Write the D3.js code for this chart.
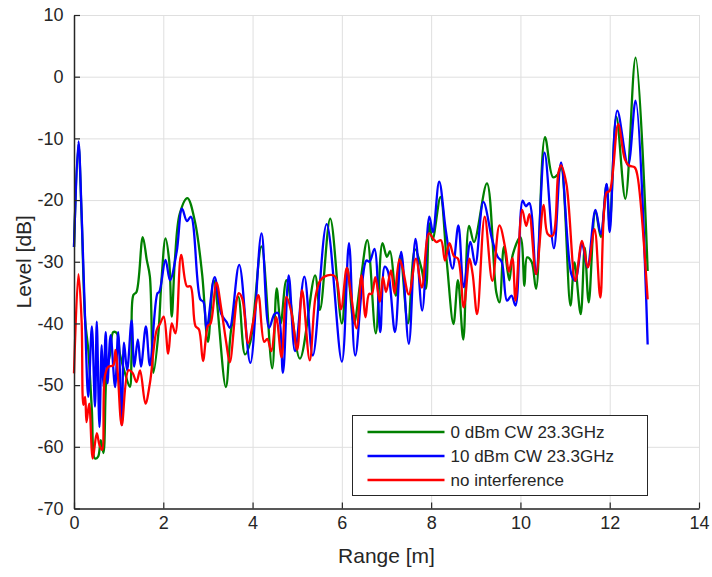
<!DOCTYPE html>
<html>
<head>
<meta charset="utf-8">
<script src="https://cdn.jsdelivr.net/npm/d3@7"></script>
<style>
  body { margin: 0; background: #fff; }
  text { font-family: "Liberation Sans", Arial, sans-serif; fill: #262626; }
</style>
</head>
<body>
<div id="chart"></div>
<script>
// tick values
var xTicks = [0, 2, 4, 6, 8, 10, 12, 14];
var yTicks = [-70, -60, -50, -40, -30, -20, -10, 0, 10];

// series: [range m, level dB] (peaks and dips)
var green0dBm = [
  [0, -27.6], [0.1, -11], [0.17, -22.5], [0.25, -39.5], [0.32, -44.3], [0.40, -54], [0.47, -61.9],
  [0.54, -61.6], [0.60, -58.9], [0.66, -61], [0.73, -48], [0.81, -44.9], [0.88, -41.4], [0.96, -41.6],
  [1.03, -45], [1.14, -48], [1.25, -50.3], [1.29, -45], [1.33, -35.4], [1.40, -34.9], [1.54, -26],
  [1.63, -29.7], [1.70, -32.4], [1.78, -48], [1.89, -41.6], [1.96, -33], [2.05, -26.2], [2.13, -29.7],
  [2.19, -38.9], [2.26, -29.7], [2.37, -22.2], [2.54, -19.7], [2.71, -23.5], [2.87, -32], [3.0, -43],
  [3.13, -33], [3.40, -50.3], [3.52, -41], [3.68, -35.7], [3.83, -45], [3.95, -43], [4.20, -27.5],
  [4.44, -47.3], [4.54, -34.3], [4.63, -40], [4.76, -33], [5.06, -45.7], [5.40, -32.2], [5.51, -37.8],
  [5.74, -23], [6.0, -40], [6.12, -31], [6.27, -40], [6.42, -33], [6.57, -26.5], [6.76, -41.6],
  [6.91, -27], [7.01, -29.2], [7.08, -28.3], [7.21, -35.5], [7.31, -29], [7.48, -40], [7.64, -28],
  [7.78, -31], [7.88, -34.4], [7.96, -23.8], [8.03, -26.5], [8.21, -19.5], [8.35, -30], [8.50, -40.1],
  [8.60, -33], [8.72, -42.6], [8.85, -24.2], [8.96, -26.8], [9.25, -17.3], [9.46, -35], [9.53, -36.6],
  [9.63, -27.6], [9.75, -33], [9.83, -28.8], [10.0, -26], [10.09, -33.9], [10.15, -29.3], [10.25, -30],
  [10.35, -34.4], [10.55, -9.8], [10.73, -16.3], [10.84, -15.8], [10.91, -14.7], [11.12, -37.1],
  [11.21, -30.1], [11.35, -38.5], [11.44, -27.7], [11.53, -36.6], [11.68, -21.7], [11.80, -26],
  [11.93, -17.5], [12.0, -24], [12.15, -6.5], [12.35, -19.8], [12.58, 3.1], [12.85, -31.5]
];

var blue10dBm = [
  [0, -27.6], [0.1, -10.5], [0.17, -22], [0.25, -39.7], [0.32, -51.9], [0.40, -40.5], [0.47, -53.5],
  [0.51, -39.7], [0.57, -56.8], [0.62, -43.5], [0.66, -50.3], [0.71, -41.4], [0.75, -49.7], [0.82, -41.9],
  [0.92, -50.3], [0.99, -41.4], [1.07, -56.5], [1.12, -43.1], [1.19, -47.6], [1.29, -39.5], [1.35, -47],
  [1.43, -42.6], [1.50, -47], [1.61, -40.5], [1.70, -46.8], [1.87, -35.1], [1.91, -34.9], [2.05, -29.7],
  [2.15, -33], [2.30, -28.4], [2.42, -21.4], [2.53, -23.4], [2.62, -22.7], [2.83, -36.1], [2.90, -36.5],
  [2.97, -41], [3.15, -32.5], [3.30, -38.5], [3.42, -39.8], [3.49, -40.7], [3.70, -30.5], [3.95, -46.4],
  [4.20, -25.4], [4.37, -40.7], [4.49, -38.5], [4.57, -38.3], [4.68, -48], [4.81, -32.2], [4.95, -44.5],
  [5.16, -32.4], [5.35, -45.2], [5.66, -23.9], [6.0, -46.2], [6.16, -27], [6.30, -45.2], [6.55, -29.8],
  [6.62, -30], [6.73, -27.9], [6.86, -41.4], [6.96, -30.8], [7.03, -31.5], [7.19, -41.4], [7.33, -28.4],
  [7.50, -43.3], [7.65, -26.3], [7.80, -37.9], [7.96, -22.7], [8.04, -25.2], [8.18, -17], [8.33, -25],
  [8.48, -31.1], [8.61, -24.1], [8.73, -34.1], [8.88, -26.8], [8.99, -30.5], [9.17, -20.3], [9.37, -26.5],
  [9.49, -29.2], [9.58, -30], [9.70, -36.3], [9.80, -35.5], [9.89, -37.1], [10.05, -20.1], [10.12, -21],
  [10.20, -20.5], [10.35, -32], [10.54, -12.3], [10.75, -27.8], [10.91, -13.9], [11.14, -32], [11.23, -33.1],
  [11.38, -27.1], [11.50, -30.9], [11.68, -21.6], [11.80, -25.5], [11.93, -17.4], [12.0, -25.2],
  [12.17, -5.5], [12.41, -14.4], [12.58, -3.9], [12.85, -43.4]
];

var redNoInterf = [
  [0, -48.1], [0.1, -32], [0.17, -39.5], [0.21, -53.2], [0.25, -51.9], [0.28, -56], [0.34, -53],
  [0.42, -61.9], [0.51, -57.8], [0.57, -59.7], [0.63, -60.5], [0.69, -48.6], [0.77, -47], [0.88, -46.8],
  [0.93, -44.3], [0.98, -48], [1.07, -56.5], [1.22, -47.6], [1.31, -48], [1.40, -49.5], [1.48, -47.6],
  [1.60, -53], [1.70, -49.7], [1.85, -41.1], [1.93, -40], [2.01, -38.9], [2.11, -44.9], [2.19, -40],
  [2.27, -41.6], [2.40, -28.9], [2.53, -34], [2.61, -34], [2.72, -40.4], [2.80, -41], [2.89, -46.1],
  [3.0, -40.4], [3.06, -40], [3.19, -33.4], [3.30, -37.7], [3.41, -43.1], [3.49, -46.3], [3.69, -35.1],
  [3.77, -36], [3.90, -43.2], [4.01, -39.9], [4.13, -35.4], [4.26, -43], [4.33, -42.5], [4.42, -44.5],
  [4.53, -39], [4.65, -45.5], [4.76, -35.7], [4.87, -38.2], [5.0, -44.3], [5.11, -34.6], [5.28, -46],
  [5.41, -35.7], [5.52, -33], [5.68, -32.2], [5.85, -32.4], [5.98, -37.7], [6.11, -31], [6.20, -35],
  [6.33, -40.8], [6.44, -32.2], [6.53, -39], [6.61, -35.2], [6.67, -35.2], [6.75, -32.5], [6.85, -36.5],
  [6.92, -32.5], [6.99, -34.9], [7.10, -31.4], [7.18, -35.1], [7.29, -29.6], [7.36, -31], [7.50, -35.3],
  [7.66, -29.5], [7.79, -34.2], [7.95, -25.4], [8.05, -26.3], [8.12, -26.8], [8.22, -26.5], [8.31, -29.8],
  [8.41, -27], [8.51, -29.1], [8.60, -29.5], [8.73, -37.4], [8.86, -29.5], [8.93, -32], [9.03, -38.5],
  [9.20, -22.7], [9.37, -33.1], [9.53, -24.1], [9.67, -28.2], [9.74, -31.6], [9.82, -29.4], [9.89, -36.3],
  [10.04, -21.6], [10.13, -24.2], [10.20, -22.3], [10.35, -32], [10.52, -20.8], [10.61, -25.5],
  [10.72, -25.8], [10.85, -15.6], [10.91, -14.4], [11.03, -17.4], [11.23, -33.1], [11.38, -26.6],
  [11.51, -30.9], [11.66, -24.7], [11.79, -35.8], [11.93, -18.8], [12.0, -18.5], [12.19, -7.7],
  [12.34, -13.4], [12.43, -14.4], [12.56, -14.7], [12.62, -16], [12.85, -36.1]
];

var seriesNames = ["0 dBm CW 23.3GHz", "10 dBm CW 23.3GHz", "no interference"];
var seriesColors = ["#008000", "#0000ff", "#ff0000"];

var margin = {top: 15, right: 13, bottom: 68.5, left: 74},
    width = 712 - margin.left - margin.right,
    height = 577 - margin.top - margin.bottom;

var x = d3.scaleLinear().domain([0, 14]).range([0, width]);
var y = d3.scaleLinear().domain([-70, 10]).range([height, 0]);

var svg = d3.select("#chart").append("svg")
    .attr("width", 712)
    .attr("height", 577)
  .append("g")
    .attr("transform", "translate(" + margin.left + "," + margin.top + ")");

// grid
svg.append("g")
    .attr("class", "grid")
    .attr("transform", "translate(0," + height + ")")
    .call(d3.axisBottom(x).tickValues(xTicks).tickSize(-height).tickFormat(""));
svg.append("g")
    .attr("class", "grid")
    .call(d3.axisLeft(y).tickValues(yTicks).tickSize(-width).tickFormat(""));
svg.selectAll(".grid .domain").remove();
svg.selectAll(".grid line").attr("stroke", "#dfdfdf").attr("stroke-width", 1);

// lines
var line = d3.line()
    .x(function(d) { return x(d[0]); })
    .y(function(d) { return y(d[1]); })
    .curve(d3.curveCatmullRom.alpha(0.5));

[green0dBm, blue10dBm, redNoInterf].forEach(function(s, i) {
  svg.append("path")
      .datum(s)
      .attr("fill", "none")
      .attr("stroke", seriesColors[i])
      .attr("stroke-width", 2.3)
      .attr("stroke-linejoin", "round")
      .attr("d", line);
});

// axes (plain hyphen for negatives, like the original)
var fmt = function(d) { return String(d); };
var xAxis = svg.append("g")
    .attr("transform", "translate(0," + height + ")")
    .call(d3.axisBottom(x).tickValues(xTicks).tickFormat(fmt)
      .tickSizeInner(-6).tickSizeOuter(0).tickPadding(7.5));
var yAxis = svg.append("g")
    .call(d3.axisLeft(y).tickValues(yTicks).tickFormat(fmt)
      .tickSizeInner(-6).tickSizeOuter(0).tickPadding(10.5));
[xAxis, yAxis].forEach(function(a) {
  a.select(".domain").attr("stroke", "#262626").attr("stroke-width", 1.5);
  a.selectAll(".tick line").attr("stroke", "#262626").attr("stroke-width", 1.2);
  a.selectAll("text").style("font-size", "18px").attr("fill", "#262626");
});

svg.append("text")
    .attr("x", width / 2)
    .attr("y", height + 54)
    .attr("text-anchor", "middle")
    .style("font-size", "21px")
    .text("Range [m]");

svg.append("text")
    .attr("transform", "rotate(-90)")
    .attr("x", -height / 2)
    .attr("y", -43)
    .attr("text-anchor", "middle")
    .style("font-size", "21px")
    .text("Level [dB]");

// legend
var legend = svg.append("g")
    .attr("transform", "translate(" + (352.5 - margin.left) + "," + (415.5 - margin.top) + ")");
legend.append("rect")
    .attr("width", 295)
    .attr("height", 80)
    .attr("fill", "#fff")
    .attr("stroke", "#262626")
    .attr("stroke-width", 1);
seriesNames.forEach(function(n, i) {
  var ly = 16.5 + i * 24;
  legend.append("line")
      .attr("x1", 15).attr("x2", 92)
      .attr("y1", ly).attr("y2", ly)
      .attr("stroke", seriesColors[i])
      .attr("stroke-width", 2.3);
  legend.append("text")
      .attr("x", 98)
      .attr("y", ly)
      .attr("dy", "0.35em")
      .style("font-size", "17px")
      .text(n);
});
</script>
</body>
</html>
